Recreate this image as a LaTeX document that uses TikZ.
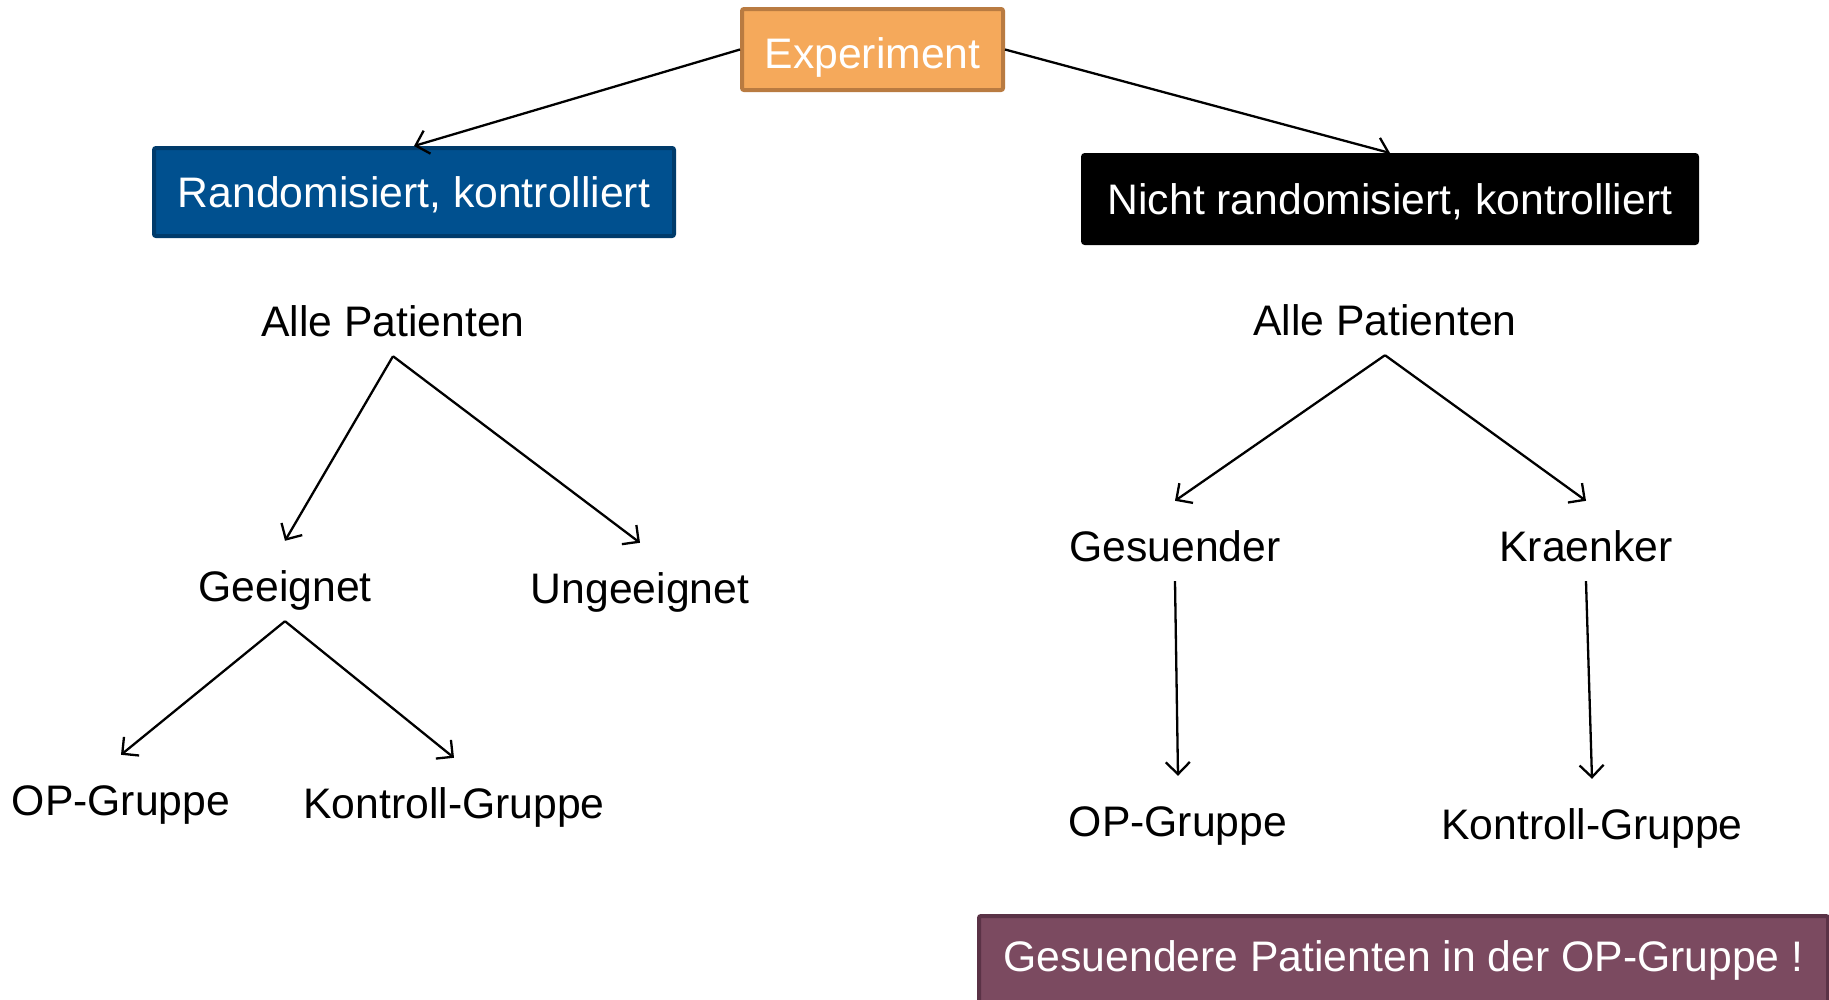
\documentclass[tikz,border=0pt]{standalone}
\usepackage{fontspec}
\setmainfont{Liberation Sans}
\usetikzlibrary{arrows.meta}
\definecolor{expfill}{HTML}{F5A95B}
\definecolor{expdraw}{HTML}{B97B41}
\definecolor{bluefill}{HTML}{00508F}
\definecolor{bluedraw}{HTML}{003B6B}
\definecolor{plumfill}{HTML}{7B4A60}
\definecolor{plumdraw}{HTML}{5A3246}
\begin{document}
\begin{tikzpicture}[x=1pt,y=-1pt,
  txt/.style={font=\fontsize{42.7pt}{50pt}\selectfont},
  box/.style={txt, text=white, line width=4pt, rounded corners=2pt, inner sep=0pt, text height=30pt, text depth=0pt},
  plain/.style={txt, inner xsep=0pt, inner ysep=20pt, text height=30pt, text depth=0pt},
  conn/.style={line width=2.3pt, -{Straight Barb[length=12pt,width=24pt]}}]
\useasboundingbox (0,0) rectangle (1829,999);
\node[box, fill=expfill, draw=expdraw, minimum width=261pt, minimum height=81pt, text height=37pt] (exp) at (872.5,49.5) {Experiment};
\node[box, fill=bluefill, draw=bluedraw, minimum width=520pt, minimum height=88pt] (rand) at (414,192) {Randomisiert, kontrolliert};
\node[box, fill=black, draw=black, minimum width=614pt, minimum height=88pt] (nrand) at (1390,199) {Nicht randomisiert, kontrolliert};
\node[box, fill=plumfill, draw=plumdraw, minimum width=849pt, minimum height=88pt, text height=23pt] (note) at (1403.5,960) {Gesuendere Patienten in der OP-Gruppe !};

\node[plain] (alleL) at (393,321) {Alle Patienten};
\node[plain] (geeig) at (285,586) {Geeignet};
\node[plain] (ungeeig) at (640,588) {Ungeeignet};
\node[plain] (opL) at (121,800) {OP-Gruppe};
\node[plain] (kontL) at (454,803) {Kontroll-Gruppe};

\node[plain] (alleR) at (1385,320) {Alle Patienten};
\node[plain] (gesund) at (1175,546) {Gesuender};
\node[plain] (krank) at (1586,546) {Kraenker};
\node[plain] (opR) at (1178,821) {OP-Gruppe};
\node[plain] (kontR) at (1592,824) {Kontroll-Gruppe};

\draw[conn] (exp.west) -- (rand.north);
\draw[conn] (exp.east) -- (nrand.north);

\draw[conn] (alleL.south) -- ([yshift=10pt]geeig.north);
\draw[conn] (alleL.south) -- ([yshift=10pt]ungeeig.north);
\draw[conn] (geeig.south) -- ([yshift=10pt]opL.north);
\draw[conn] (geeig.south) -- ([yshift=10pt]kontL.north);

\draw[conn] (alleR.south) -- ([yshift=10pt]gesund.north);
\draw[conn] (alleR.south) -- ([yshift=10pt]krank.north);
\draw[conn] (gesund.south) -- ([yshift=10pt]opR.north);
\draw[conn] (krank.south) -- ([yshift=10pt]kontR.north);
\end{tikzpicture}
\end{document}
